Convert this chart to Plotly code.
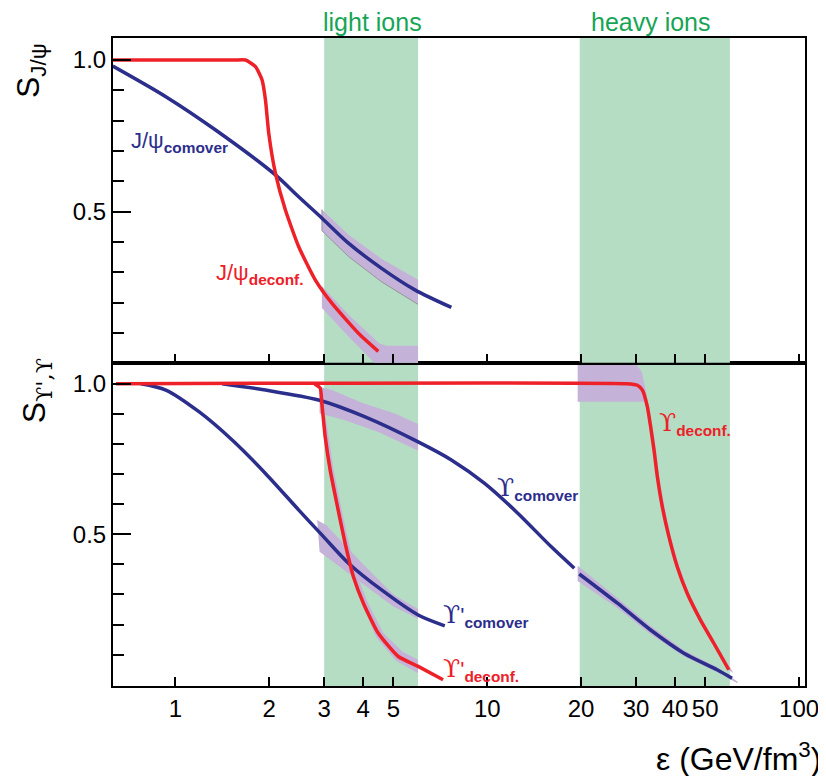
import numpy as np
import plotly.graph_objects as go

# ---------------- data ----------------
# top panel: J/psi
jpsi_com_x = [0.63, 0.932, 1.346, 2.093, 2.484, 2.914, 3.589, 4.585, 5.861, 7.674]
jpsi_com_y = [0.980, 0.879, 0.769, 0.621, 0.549, 0.484, 0.396, 0.313, 0.242, 0.184]

jpsi_dec_x = [0.63, 1.55, 1.678, 1.807, 1.897, 1.945, 1.993, 2.093, 2.252, 2.484, 2.809, 3.175, 3.863, 4.475]
jpsi_dec_y = [1.0, 1.0, 1.0, 0.978, 0.934, 0.868, 0.758, 0.627, 0.506, 0.385, 0.275, 0.198, 0.099, 0.039]

jpsi_com_band_x = [2.95, 3.59, 4.59, 6.0]
jpsi_com_band_hi = [0.507, 0.424, 0.344, 0.275]
jpsi_com_band_lo = [0.437, 0.352, 0.268, 0.194]

jpsi_dec_band_hi_x = [2.95, 3.59, 4.5, 4.75, 6.0]
jpsi_dec_band_hi = [0.255, 0.160, 0.066, 0.058, 0.058]
jpsi_dec_band_lo_x = [2.95, 3.59, 4.36, 6.0]
jpsi_dec_band_lo = [0.182, 0.088, 0.0, 0.0]

# bottom panel: Upsilon and Upsilon'
ups_dec_x = [0.645, 28.0, 30.3, 31.45, 32.62, 33.42, 34.26, 35.11, 36.42, 38.25, 40.67, 43.77, 48.29, 53.29, 59.5]
ups_dec_y = [1.0, 1.0, 0.995, 0.979, 0.924, 0.857, 0.780, 0.692, 0.592, 0.492, 0.392, 0.304, 0.215, 0.138, 0.050]

ups_com_x = [1.413, 1.945, 2.878, 4.058, 6.005, 7.674, 9.81, 12.53, 16.02, 19.02, None, 19.73, 26.16, 33.42, 42.72, 54.58, 60.95]
ups_com_y = [1.0, 0.979, 0.946, 0.890, 0.807, 0.747, 0.669, 0.570, 0.459, 0.387, None, 0.368, 0.271, 0.182, 0.105, 0.050, 0.022]

upsp_com_x = [0.775, 0.932, 1.19, 1.521, 1.945, 2.484, 2.949, 3.589, 4.585, 6.005, 7.31]
upsp_com_y = [1.0, 0.979, 0.907, 0.813, 0.702, 0.581, 0.498, 0.404, 0.315, 0.232, 0.196]

upsp_dec_x = [2.795, 2.914, 2.949, 3.023, 3.137, 3.293, 3.503, 3.724, 4.008, 4.475, 5.185, 6.005, 7.218]
upsp_dec_y = [1.0, 0.985, 0.935, 0.824, 0.713, 0.603, 0.470, 0.359, 0.271, 0.171, 0.094, 0.061, 0.017]

# uncertainty bands (lavender)
ups_com_band1_hi_x = [2.9, 3.175, 4.0, 5.06, 6.0]
ups_com_band1_hi = [0.99, 0.979, 0.935, 0.901, 0.866]
ups_com_band1_lo_x = [2.9, 3.5, 4.475, 6.0]
ups_com_band1_lo = [0.901, 0.879, 0.840, 0.778]

ups_com_band2_x = [19.5, 26.16, 33.42, 42.72, 54.58, 63.5]
ups_com_band2_hi = [0.395, 0.288, 0.195, 0.115, 0.058, 0.010]
ups_com_band2_lo = [0.345, 0.255, 0.168, 0.095, 0.042, 0.005]

upsp_com_band_hi_x = [2.85, 3.05, 4.0, 5.0, 6.0]
upsp_com_band_hi = [0.547, 0.530, 0.400, 0.300, 0.252]
upsp_com_band_lo_x = [2.9, 4.0, 5.0, 6.0]
upsp_com_band_lo = [0.442, 0.335, 0.260, 0.219]

upsp_dec_band_r_x = [2.93, 3.10, 3.22, 3.38, 3.60, 3.84, 4.15, 4.65, 5.35, 6.0]
upsp_dec_band_r_y = [0.99, 0.824, 0.713, 0.603, 0.470, 0.359, 0.271, 0.171, 0.110, 0.083]
upsp_dec_band_l_x = [2.93, 2.99, 3.10, 3.25, 3.46, 3.68, 3.96, 4.40, 5.10, 6.0]
upsp_dec_band_l_y = [0.935, 0.824, 0.713, 0.603, 0.470, 0.359, 0.271, 0.160, 0.080, 0.038]

ups_dec_band_r_x = [19.5, 30.0, 31.3, 32.2, 33.9, 34.8, 35.6, 37.0, 38.8, 41.3, 44.4, 49.0, 54.1, 61.5]
ups_dec_band_r_y = [1.065, 1.065, 1.04, 0.98, 0.857, 0.780, 0.692, 0.592, 0.492, 0.392, 0.304, 0.215, 0.138, 0.040]
ups_dec_band_l_x = [19.5, 32.0, 33.2, 34.1, 34.9, 36.2, 38.0, 40.4, 43.5, 48.0, 53.0, 59.0]
ups_dec_band_l_y = [0.94, 0.94, 0.857, 0.780, 0.692, 0.592, 0.492, 0.392, 0.304, 0.215, 0.138, 0.050]

# energy-density regions
light_ions = [3.0, 6.0]
heavy_ions = [19.8, 60.0]

x_ticks = [1, 2, 3, 4, 5, 10, 20, 30, 40, 50, 100]
x_ticktext = ["1", "2", "3", "4", "5", "10", "20", "30", "40", "50", "100"]
y_ticks = [0.5, 1.0]
y_ticktext = ["0.5", "1.0"]
y_minor = [0.1, 0.2, 0.3, 0.4, 0.6, 0.7, 0.8, 0.9]

# ---------------- styles ----------------
BLUE = "#2c2e8c"
RED = "#ee2028"
LAV = "#c5b2d9"
GREEN = "#b5ddc3"
GTEXT = "#16a556"
FONT = "Liberation Sans, Arial, sans-serif"
SERIF = "DejaVu Serif"

fig = go.Figure()

def rect(xr, xa, ya):
    fig.add_trace(go.Scatter(x=[xr[0], xr[0], xr[1], xr[1], xr[0]],
                             y=[-0.1, 1.2, 1.2, -0.1, -0.1],
                             fill="toself", fillcolor=GREEN, mode="lines",
                             line=dict(width=0), xaxis=xa, yaxis=ya, hoverinfo="skip"))

def band(xu, yu, xl, yl, xa, ya):
    x = list(xu) + list(xl)[::-1]
    y = list(yu) + list(yl)[::-1]
    fig.add_trace(go.Scatter(x=x, y=y, fill="toself", fillcolor=LAV, mode="lines",
                             line=dict(width=0), xaxis=xa, yaxis=ya, hoverinfo="skip"))

def edge(x, y, xa, ya):
    fig.add_trace(go.Scatter(x=x, y=y, mode="lines", line=dict(width=0.8, color="#8a8a8a"),
                             xaxis=xa, yaxis=ya, hoverinfo="skip"))

def curve(x, y, color, xa, ya, smooth=0.8):
    fig.add_trace(go.Scatter(x=x, y=y, mode="lines",
                             line=dict(color=color, width=3.5, shape="spline", smoothing=smooth),
                             xaxis=xa, yaxis=ya, hoverinfo="skip", connectgaps=False))

# green regions on both panels
for xa, ya in (("x", "y"), ("x2", "y2")):
    rect(light_ions, xa, ya)
    rect(heavy_ions, xa, ya)

# top panel
band(jpsi_com_band_x, jpsi_com_band_hi, jpsi_com_band_x, jpsi_com_band_lo, "x2", "y2")
edge([jpsi_com_band_x[0]] + jpsi_com_band_x, [jpsi_com_band_hi[0]] + jpsi_com_band_lo, "x2", "y2")
band(jpsi_dec_band_hi_x, jpsi_dec_band_hi, jpsi_dec_band_lo_x, jpsi_dec_band_lo, "x2", "y2")
curve(jpsi_com_x, jpsi_com_y, BLUE, "x2", "y2")
curve(jpsi_dec_x, jpsi_dec_y, RED, "x2", "y2", smooth=0.5)

# bottom panel
band(ups_com_band1_hi_x, ups_com_band1_hi, ups_com_band1_lo_x, ups_com_band1_lo, "x", "y")
band(ups_com_band2_x, ups_com_band2_hi, ups_com_band2_x, ups_com_band2_lo, "x", "y")
band(upsp_com_band_hi_x, upsp_com_band_hi, upsp_com_band_lo_x, upsp_com_band_lo, "x", "y")
band(upsp_dec_band_r_x, upsp_dec_band_r_y, upsp_dec_band_l_x, upsp_dec_band_l_y, "x", "y")
band(ups_dec_band_r_x, ups_dec_band_r_y, ups_dec_band_l_x, ups_dec_band_l_y, "x", "y")
curve(ups_com_x, ups_com_y, BLUE, "x", "y")
curve(upsp_com_x, upsp_com_y, BLUE, "x", "y")
curve(ups_dec_x, ups_dec_y, RED, "x", "y", smooth=0.5)
curve(upsp_dec_x, upsp_dec_y, RED, "x", "y", smooth=0.5)

xcommon = dict(type="log", range=[-0.2, 2.019], showgrid=False, zeroline=False,
               showline=True, linecolor="black", linewidth=2, mirror=True,
               ticks="inside", ticklen=9, tickwidth=2, tickcolor="black",
               tickmode="array", tickvals=x_ticks, ticktext=x_ticktext,
               tickfont=dict(family=FONT, size=24, color="black"))
ycommon = dict(showgrid=False, zeroline=False, showline=True, linecolor="black",
               linewidth=2, mirror=True, ticks="inside", ticklen=18, tickwidth=2,
               tickcolor="black", tickmode="array", tickvals=y_ticks, ticktext=y_ticktext,
               tickfont=dict(family=FONT, size=24, color="black"),
               minor=dict(tickmode="array", tickvals=y_minor, ticks="inside",
                          ticklen=11, tickwidth=2, tickcolor="black"))

# the page body adds an 8 px offset, so the figure is 8 px smaller than the window
fig.update_layout(
    width=818, height=768,
    margin=dict(l=105, r=21, t=30, b=90, autoexpand=False),
    paper_bgcolor="white", plot_bgcolor="white",
    showlegend=False,
    xaxis=dict(**xcommon, anchor="y", domain=[0, 1]),
    yaxis=dict(**ycommon, anchor="x", domain=[0, 0.499], range=[-0.004, 1.07]),
    xaxis2=dict(**xcommon, anchor="y2", domain=[0, 1], matches="x", showticklabels=False),
    yaxis2=dict(**ycommon, anchor="x2", domain=[0.499, 1], range=[0.002, 1.0725]),
)

U = '<span style="font-family:%s;font-size:25px">ϒ</span>' % SERIF
anns = [
    # curve labels: (x data, y data, text, color, axis)
    (0.711, 0.729, "J/ψ<sub><b>comover</b></sub>", BLUE, "2"),
    (1.33, 0.295, "J/ψ<sub><b>deconf.</b></sub>", RED, "2"),
    (10.58, 0.652, U + "<sub><b>comover</b></sub>", BLUE, ""),
    (7.11, 0.229, U + "'<sub><b>comover</b></sub>", BLUE, ""),
    (7.11, 0.050, U + "'<sub><b>deconf.</b></sub>", RED, ""),
    (35.1, 0.869, U + "<sub><b>deconf.</b></sub>", RED, ""),
]
for xv, yv, txt, col, ax in anns:
    fig.add_annotation(x=np.log10(xv), y=yv, xref="x" + ax, yref="y" + ax, text=txt,
                       showarrow=False, xanchor="left", yanchor="middle",
                       font=dict(family=FONT, size=22, color=col))

fig.add_annotation(x=0.3757, y=1.0247, xref="paper", yref="paper", text="light ions",
                   showarrow=False, xanchor="center", yanchor="middle",
                   font=dict(family=FONT, size=25, color=GTEXT))
fig.add_annotation(x=0.7775, y=1.0247, xref="paper", yref="paper", text="heavy ions",
                   showarrow=False, xanchor="center", yanchor="middle",
                   font=dict(family=FONT, size=25, color=GTEXT))

fig.add_annotation(x=-0.12, y=0.9506, xref="paper", yref="paper", text="S<sub>J/ψ</sub>",
                   textangle=-90, showarrow=False, xanchor="center", yanchor="middle",
                   font=dict(family=FONT, size=32, color="black"))
fig.add_annotation(x=-0.111, y=0.455, xref="paper", yref="paper",
                   text='S<sub><span style="font-family:%s">ϒ\',ϒ</span></sub>' % SERIF,
                   textangle=-90, showarrow=False, xanchor="center", yanchor="middle",
                   font=dict(family=FONT, size=32, color="black"))
fig.add_annotation(x=1.026, y=-0.1096, xref="paper", yref="paper",
                   text="ε (GeV/fm<sup>3</sup>)", showarrow=False,
                   xanchor="right", yanchor="middle",
                   font=dict(family=FONT, size=32, color="black"))

fig.write_html("out.html")
